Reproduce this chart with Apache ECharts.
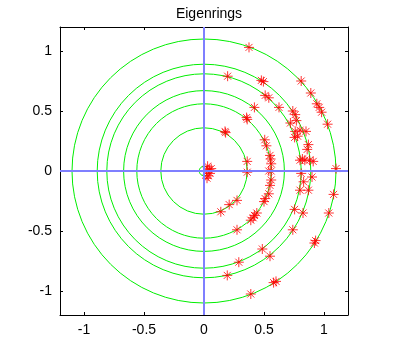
<!DOCTYPE html>
<html>
<head>
<meta charset="utf-8">
<script src="https://cdn.jsdelivr.net/npm/echarts@6/dist/echarts.min.js"></script>
<style>
  html, body { margin: 0; padding: 0; background: #fff; }
  #chart { width: 395px; height: 351px; }
</style>
</head>
<body>
<div id="chart"></div>
<script>
// ring radii (green circles)
const ringRadii = [1.1, 0.89, 0.81, 0.67, 0.56, 0.36, 0.04]

// eigenvalues, [re, im]
const eigenPoints = [
  [0.375, 1.03], [0.197, 0.79], [0.478, 0.755], [0.495, 0.745], [0.51, 0.63], [0.54, 0.61],
  [0.42, 0.53], [0.36, 0.43], [0.355, 0.445], [0.18, 0.32], [0.175, 0.33],
  [0.81, 0.75], [0.89, 0.65], [0.94, 0.56], [0.96, 0.53], [0.98, 0.49], [1.03, 0.39],
  [0.625, 0.53], [0.74, 0.5], [0.76, 0.47], [0.72, 0.4], [0.77, 0.42], [0.8, 0.34],
  [0.76, 0.33], [0.755, 0.28], [0.78, 0.29], [0.85, 0.33], [0.87, 0.22], [0.86, 0.18],
  [0.506, 0.26], [0.52, 0.21], [0.55, 0.13], [0.555, 0.1], [0.56, 0.06],
  [0.36, 0.08], [0.36, -0.01], [0.56, 0.0], [0.54, 0.0],
  [0.8, 0.09], [0.82, 0.1], [0.84, 0.09], [0.88, 0.09], [0.91, 0.08], [1.1, 0.02],
  [0.81, -0.02], [0.83, -0.09], [0.8, -0.16], [0.9, -0.05], [0.87, -0.16],
  [0.56, -0.075], [0.55, -0.12], [0.54, -0.19], [0.5, -0.255], [0.51, -0.23],
  [1.08, -0.195], [1.04, -0.35], [0.755, -0.32], [0.825, -0.35], [0.74, -0.49],
  [0.93, -0.58], [0.92, -0.6],
  [0.44, -0.35], [0.42, -0.37], [0.41, -0.39], [0.39, -0.41],
  [0.275, -0.245], [0.21, -0.28], [0.14, -0.34], [0.275, -0.49],
  [0.486, -0.65], [0.55, -0.71], [0.29, -0.76], [0.194, -0.87],
  [0.6, -0.92], [0.58, -0.93], [0.39, -1.025],
  [0.03, 0.04], [0.045, 0.01], [0.05, -0.02], [0.035, -0.04], [0.02, 0.0], [0.06, 0.02], [0.025, -0.06]
]

const xTicks = [-1, -0.5, 0, 0.5, 1]
const yTicks = [-1, -0.5, 0, 0.5, 1]

const asterisk = 'path://M5,0L5,10M0,5L10,5M1.5,1.5L8.5,8.5M1.5,8.5L8.5,1.5'

const chart = echarts.init(document.getElementById('chart'))

function mkAxis(pos, ticks, labels) {
  return {
    type: 'value',
    position: pos,
    min: -1.2,
    max: 1.2,
    splitLine: { show: false },
    axisLine: { show: true, onZero: false, lineStyle: { color: '#000', width: 1 } },
    axisTick: { show: true, inside: true, length: 3, customValues: ticks, lineStyle: { color: '#000' } },
    axisLabel: {
      show: labels,
      customValues: ticks,
      margin: 8,
      color: '#000',
      fontFamily: 'Liberation Sans, Arial, sans-serif',
      fontSize: 14,
      formatter: v => String(v)
    }
  }
}

chart.setOption({
  animation: false,
  title: {
    text: 'Eigenrings',
    left: 204,
    textAlign: 'center',
    top: 2,
    textStyle: { fontFamily: 'Liberation Sans, Arial, sans-serif', fontSize: 14, fontWeight: 'normal', color: '#000' }
  },
  grid: { left: 60, right: 47, top: 27, bottom: 36 },
  xAxis: [mkAxis('bottom', xTicks, true), mkAxis('top', xTicks, false)],
  yAxis: [mkAxis('left', yTicks, true), mkAxis('right', yTicks, false)],
  series: [
    {
      type: 'custom',
      silent: true,
      data: ringRadii.map(r => [0, 0, r]),
      renderItem: (params, api) => {
        const c = api.coord([api.value(0), api.value(1)])
        const r = api.size([api.value(2), 0])[0]
        return {
          type: 'circle',
          shape: { cx: c[0], cy: c[1], r: r },
          style: { fill: 'none', stroke: '#00ee00', lineWidth: 1 }
        }
      },
      z: 2
    },
    {
      type: 'line',
      data: [],
      silent: true,
      markLine: {
        symbol: 'none',
        silent: true,
        label: { show: false },
        lineStyle: { color: '#7f7fff', width: 2, type: 'solid' },
        data: [{ xAxis: 0 }, { yAxis: 0 }]
      },
      z: 1
    },
    {
      type: 'scatter',
      data: eigenPoints,
      symbol: asterisk,
      symbolSize: 10,
      itemStyle: { color: 'rgba(0,0,0,0)', borderColor: '#ff0000', borderWidth: 1 },
      z: 3
    }
  ]
})
</script>
</body>
</html>
